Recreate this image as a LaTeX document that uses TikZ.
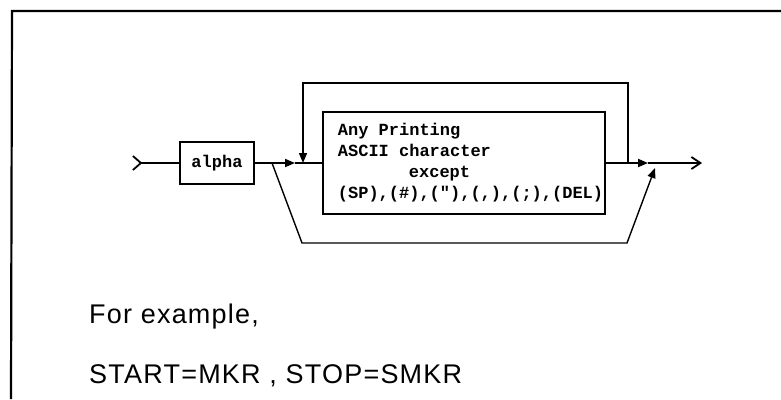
\documentclass[tikz,border=0pt]{standalone}
\usepackage{fontspec}
\setmainfont{Liberation Sans}
\setmonofont{Liberation Mono}
\usetikzlibrary{arrows.meta}

\begin{document}
\begin{tikzpicture}[x=1pt,y=-1pt,
box/.style={draw,line width=1.8pt,inner sep=0pt,font=\ttfamily\bfseries\fontsize{17}{21}\selectfont},
arr/.style={-{Triangle[length=10pt,width=8pt]},line width=1.8pt},
ln/.style={line width=1.8pt},
loop/.style={line width=1.4pt},
big/.style={inner sep=0pt,anchor=base west,font=\fontsize{27}{32}\selectfont\addfontfeature{LetterSpace=4.5}}]
\useasboundingbox (0,0) rectangle (781,399);
% frame of the page
\draw[line width=2.2pt] (11,399) -- (12,11) -- (781,11);
% boxes
\node[box,minimum width=74pt,minimum height=42pt] (alpha) at (217,163) {alpha};
\node[box,minimum width=282pt,minimum height=102pt] (chars) at (464,163) {};
\node[box,draw=none,anchor=west,align=left] (charstext) at (337,163)
  {Any Printing\\ASCII character\\\hspace*{71pt}except\\(SP),(\#),("),(,),(;),(DEL)};
% junctions
\coordinate (entry) at (132,163);
\coordinate (split) at (272,163);
\coordinate (a1) at (295,163);
\coordinate (ljoin) at (303,163);
\coordinate (rjoin) at (628,163);
\coordinate (a2) at (648,163);
\coordinate (exit) at (702,163);
\coordinate (bl) at (302,243);
\coordinate (br) at (627,243);
\coordinate (a3) at (655,168);
% connectors
\draw[ln,{Straight Barb[reversed,length=8pt,width=14pt]}-] (entry) -- (alpha.west);
\draw[arr] (alpha.east) -- (a1);
\draw[ln] (a1) -- (chars.west);
\draw[arr,loop] (rjoin) -- ++(0,-80) -| (ljoin);
\draw[arr] (chars.east) -- (a2);
\draw[ln,-{Straight Barb[length=9pt,width=12pt]}] (a2) -- (exit);
\draw[arr,loop] (split) -- (bl) -- (br) -- (a3);
% example
\node[big] (ex) at (89,323) {For example,};
\node[big] (cmd) at (89,383) {START=MKR , STOP=SMKR};
\end{tikzpicture}
\end{document}
